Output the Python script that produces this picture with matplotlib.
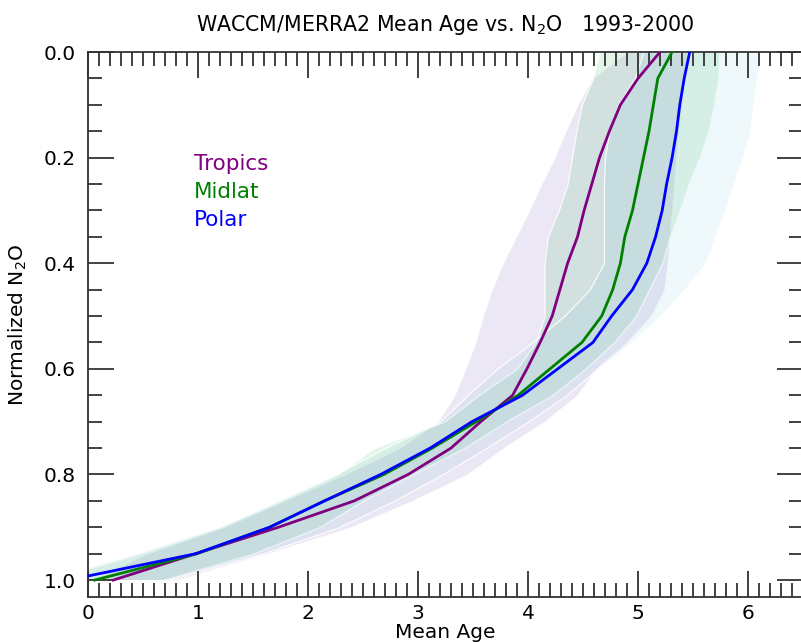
import numpy as np
import matplotlib
matplotlib.use("Agg")
import matplotlib.pyplot as plt
from matplotlib.ticker import MultipleLocator

# normalized N2O levels (y) shared by all curves
N2O_LEVELS = [0.00, 0.05, 0.10, 0.15, 0.20, 0.25, 0.30, 0.35, 0.40, 0.45, 0.50,
              0.55, 0.60, 0.65, 0.70, 0.75, 0.80, 0.85, 0.90, 0.95, 1.00]

# mean age (years) along each curve
TROPICS_AGE = [5.20, 5.00, 4.84, 4.74, 4.65, 4.58, 4.51, 4.45, 4.36, 4.29, 4.22,
               4.11, 3.99, 3.86, 3.57, 3.30, 2.91, 2.42, 1.73, 0.98, 0.23]
MIDLAT_AGE = [5.31, 5.18, 5.14, 5.10, 5.05, 5.00, 4.95, 4.88, 4.84, 4.77, 4.67,
              4.49, 4.20, 3.91, 3.53, 3.13, 2.69, 2.15, 1.65, 0.99, 0.06]
POLAR_AGE = [5.47, 5.42, 5.38, 5.35, 5.31, 5.26, 5.22, 5.16, 5.08, 4.95, 4.76,
             4.59, 4.27, 3.95, 3.49, 3.11, 2.66, 2.15, 1.65, 0.98, -0.18]

# spread (low / high mean age) for each region
TROPICS_LO = [4.90, 4.58, 4.45, 4.34, 4.24, 4.12, 4.01, 3.89, 3.77, 3.67, 3.59,
              3.52, 3.43, 3.33, 3.18, 2.83, 2.33, 1.78, 1.23, 0.53, 0.03]
TROPICS_HI = [5.45, 5.42, 5.40, 5.37, 5.35, 5.33, 5.31, 5.29, 5.27, 5.24, 5.12,
              4.90, 4.62, 4.45, 4.15, 3.78, 3.45, 2.95, 2.39, 1.63, 0.80]
MIDLAT_LO = [4.65, 4.59, 4.49, 4.44, 4.40, 4.36, 4.28, 4.18, 4.15, 4.15, 4.15,
             4.07, 3.90, 3.55, 3.24, 2.60, 2.27, 1.75, 1.20, 0.47, -0.35]
MIDLAT_HI = [5.74, 5.73, 5.69, 5.64, 5.56, 5.46, 5.38, 5.29, 5.22, 5.10, 4.98,
             4.78, 4.52, 4.22, 3.80, 3.42, 2.95, 2.50, 2.10, 1.50, 0.68]
POLAR_LO = [5.05, 4.97, 4.82, 4.74, 4.70, 4.69, 4.69, 4.69, 4.69, 4.56, 4.33,
            4.04, 3.72, 3.45, 3.20, 2.70, 2.25, 1.72, 1.18, 0.42, -0.40]
POLAR_HI = [6.12, 6.08, 6.05, 6.02, 5.95, 5.87, 5.79, 5.70, 5.61, 5.42, 5.20,
            4.94, 4.63, 4.35, 4.00, 3.62, 3.22, 2.78, 2.28, 1.58, 0.72]

REGIONS = ["Tropics", "Midlat", "Polar"]
LINE_COLOR = {"Tropics": "purple", "Midlat": "green", "Polar": "blue"}
FILL_COLOR = {"Tropics": (0.43, 0.28, 0.67, 0.13),
              "Midlat": (0.16, 0.70, 0.36, 0.13),
              "Polar": (0.40, 0.75, 0.82, 0.10)}

plt.rcParams["font.family"] = "DejaVu Sans"

fig = plt.figure(figsize=(8.01, 6.42), dpi=100)
ax = fig.add_axes([88 / 801, 45 / 642, 715 / 801, 545 / 642])

y = np.array(N2O_LEVELS)
bands = {"Tropics": (TROPICS_LO, TROPICS_HI),
         "Midlat": (MIDLAT_LO, MIDLAT_HI),
         "Polar": (POLAR_LO, POLAR_HI)}
lines = {"Tropics": TROPICS_AGE, "Midlat": MIDLAT_AGE, "Polar": POLAR_AGE}

for r in REGIONS:
    lo, hi = bands[r]
    ax.fill_betweenx(y, lo, hi, facecolor=FILL_COLOR[r],
                     edgecolor=(1, 1, 1, 0.85), linewidth=0.9, zorder=1)
for r in REGIONS:
    ax.plot(lines[r], y, color=LINE_COLOR[r], linewidth=2.0, zorder=3)

for i, r in enumerate(REGIONS):
    ax.text(0.96, 0.212 + i * 0.053, r, color=LINE_COLOR[r], fontsize=15.5,
            va="center", ha="left")

ax.set_xlim(0, 6.5)
ax.set_ylim(1.032, 0.0)
ax.xaxis.set_major_locator(MultipleLocator(1))
ax.xaxis.set_minor_locator(MultipleLocator(0.1))
ax.yaxis.set_major_locator(MultipleLocator(0.2))
ax.yaxis.set_minor_locator(MultipleLocator(0.05))
ax.set_yticks([0.0, 0.2, 0.4, 0.6, 0.8, 1.0])
ax.set_yticklabels(["0.0", "0.2", "0.4", "0.6", "0.8", "1.0"])

ax.tick_params(which="both", direction="in", top=True, right=True,
               width=1.3, color="#333333", labelsize=14.5)
ax.tick_params(which="major", length=19, pad=5)
ax.tick_params(which="minor", length=10)
ax.tick_params(axis="y", which="major", pad=9)
for s in ax.spines.values():
    s.set_linewidth(1.3)
    s.set_color("#333333")

ax.set_xlabel("Mean Age", fontsize=14.5, labelpad=0)
ax.set_ylabel("Normalized N$_2$O", fontsize=14.5)
ax.yaxis.set_label_coords(-0.083, 0.5)
ax.set_title("WACCM/MERRA2 Mean Age vs. N$_2$O   1993-2000", fontsize=14.8, pad=15)

fig.savefig("out.png", dpi=100)
